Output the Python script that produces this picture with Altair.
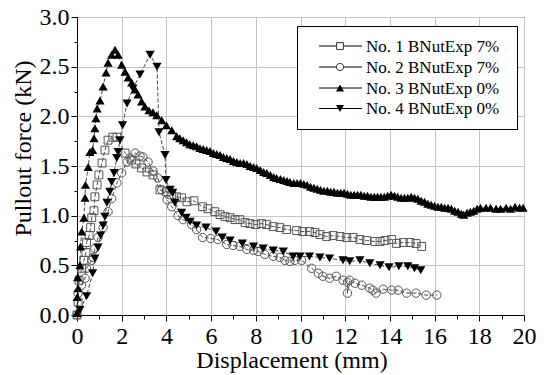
import altair as alt
import pandas as pd

# ---------------- data ----------------
x1 = [0.0, 0.05, 0.09, 0.21, 0.31, 0.40, 0.43, 0.54, 0.61, 0.66, 0.76, 0.80, 0.90, 0.98, 1.12, 1.25,
      1.39, 1.60, 1.79, 2.15, 2.45, 2.64, 2.89, 3.13, 3.40, 3.71, 4.00, 4.24, 4.46, 4.68, 4.92, 5.23,
      5.62, 5.86, 6.17, 6.40, 6.62, 6.85, 7.07, 7.29, 7.52, 7.74, 8.00, 8.26, 8.49, 8.78, 9.08, 9.38,
      9.83, 10.10, 10.40, 10.65, 10.87, 11.17, 11.46, 11.77, 12.07, 12.35, 12.66, 12.96, 13.33, 13.56,
      13.78, 14.08, 14.30, 14.60, 14.90, 15.17, 15.42]
y1 = [0.0, 0.13, 0.35, 0.47, 0.55, 0.63, 0.73, 0.80, 0.88, 0.98, 1.05, 1.19, 1.31, 1.41, 1.53, 1.66,
      1.76, 1.79, 1.79, 1.63, 1.56, 1.52, 1.48, 1.44, 1.41, 1.26, 1.24, 1.21, 1.19, 1.18, 1.14, 1.15,
      1.09, 1.07, 1.04, 1.01, 0.99, 0.98, 0.96, 0.96, 0.93, 0.92, 0.91, 0.92, 0.91, 0.89, 0.88, 0.86,
      0.85, 0.84, 0.84, 0.83, 0.81, 0.79, 0.80, 0.79, 0.78, 0.78, 0.76, 0.75, 0.74, 0.74,
      0.75, 0.76, 0.72, 0.73, 0.73, 0.72, 0.69]

x2 = [0.0, 0.05, 0.20, 0.36, 0.43, 0.66, 0.72, 0.80, 0.94, 1.17, 1.39, 1.55, 1.79, 2.00, 2.24, 2.37,
      2.60, 2.82, 2.95, 3.18, 3.40, 3.62, 3.79, 4.03, 4.24, 4.52, 4.75, 5.13, 5.35, 5.62, 5.98, 6.30,
      6.70, 6.98, 7.29, 7.60, 7.90, 8.10, 8.40, 8.78, 9.08, 9.30, 9.53, 9.75, 10.05, 10.50, 10.80,
      11.00, 11.30, 11.60, 11.90, 12.10, 12.10, 12.20, 12.44, 12.74, 13.10, 13.24, 13.38, 13.70,
      14.08, 14.37, 14.75, 15.17, 15.62, 16.10]
y2 = [0.0, 0.22, 0.30, 0.37, 0.47, 0.55, 0.58, 0.67, 0.78, 0.88, 1.04, 1.17, 1.33, 1.43, 1.54, 1.58,
      1.63, 1.60, 1.59, 1.54, 1.45, 1.38, 1.26, 1.16, 1.09, 1.00, 0.96, 0.91, 0.86, 0.78, 0.77, 0.76,
      0.71, 0.70, 0.69, 0.66, 0.65, 0.64, 0.61, 0.59, 0.58, 0.55, 0.54, 0.55, 0.55, 0.47, 0.42,
      0.39, 0.37, 0.39, 0.35, 0.33, 0.22, 0.35, 0.32, 0.30, 0.27, 0.25, 0.22, 0.26,
      0.25, 0.25, 0.22, 0.22, 0.20, 0.20]

x3 = [0.0, 0.01, 0.05, 0.03, 0.13, 0.16, 0.21, 0.31, 0.36, 0.38, 0.50, 0.58, 0.70, 0.76, 0.80, 0.85,
      0.90, 1.03, 1.17, 1.30, 1.39, 1.55, 1.70, 1.84, 2.00, 2.15, 2.29, 2.45, 2.60, 2.73, 2.89, 3.04,
      3.22, 3.40, 3.57, 3.79, 4.00, 4.24, 4.46, 4.60, 4.75, 4.90, 5.05, 5.20, 5.35, 5.50, 5.65, 5.80,
      5.95, 6.10, 6.25, 6.40, 6.55, 6.70, 6.85, 7.00, 7.15, 7.30, 7.45, 7.60, 7.75, 7.90, 8.04, 8.20,
      8.35, 8.49, 8.65, 8.80, 8.93, 9.10, 9.25, 9.40, 9.53, 9.70, 9.85, 10.00, 10.15, 10.30, 10.45,
      10.60, 10.75, 10.90, 11.05, 11.20, 11.35, 11.50, 11.65, 11.80, 11.95, 12.10, 12.25, 12.40,
      12.55, 12.70, 12.85, 13.00, 13.15, 13.30, 13.45, 13.60, 13.75, 13.90, 14.05, 14.20, 14.35,
      14.50, 14.65, 14.80, 14.95, 15.10, 15.25, 15.40, 15.55, 15.70, 15.85, 16.00, 16.15, 16.30,
      16.45, 16.60, 16.75, 16.90, 17.05, 17.20, 17.30, 17.45, 17.60, 17.75, 17.90, 18.05, 18.30,
      18.50, 18.75, 18.95, 19.20, 19.40, 19.60, 19.80, 19.96]
y3 = [0.02, 0.18, 0.27, 0.38, 0.50, 0.69, 0.84, 0.98, 1.18, 1.31, 1.49, 1.64, 1.66, 1.78, 1.88, 1.98,
      2.08, 2.16, 2.30, 2.44, 2.54, 2.62, 2.67, 2.62, 2.52, 2.45, 2.39, 2.34, 2.27, 2.22, 2.15, 2.10,
      2.06, 2.04, 2.01, 1.96, 1.91, 1.86, 1.80, 1.78, 1.76, 1.74, 1.72, 1.71, 1.70, 1.68, 1.67, 1.66,
      1.65, 1.63, 1.62, 1.61, 1.59, 1.58, 1.57, 1.55, 1.54, 1.53, 1.53, 1.52, 1.50, 1.49, 1.48, 1.46,
      1.44, 1.43, 1.41, 1.39, 1.38, 1.37, 1.36, 1.35, 1.34, 1.33, 1.33, 1.33, 1.32, 1.31, 1.29,
      1.28, 1.27, 1.26, 1.25, 1.25, 1.24, 1.24, 1.23, 1.23, 1.23, 1.22, 1.21, 1.21,
      1.21, 1.21, 1.20, 1.20, 1.19, 1.19, 1.19, 1.19, 1.19, 1.20, 1.21, 1.20, 1.19,
      1.18, 1.18, 1.18, 1.19, 1.18, 1.17, 1.15, 1.14, 1.12, 1.11, 1.10, 1.09, 1.09,
      1.08, 1.08, 1.07, 1.05, 1.04, 1.02, 1.01, 1.03, 1.04, 1.05, 1.07, 1.08, 1.08,
      1.08, 1.07, 1.07, 1.08, 1.07, 1.09, 1.08, 1.08]

x4 = [0.13, 0.43, 0.70, 0.80, 0.94, 1.06, 1.17, 1.25, 1.34, 1.47, 1.55, 1.66, 1.78, 1.84, 1.92, 2.04,
      2.24, 2.50, 2.82, 3.27, 3.58, 3.67, 3.94, 3.98, 4.16, 4.28, 4.38, 4.68, 4.88, 5.06, 5.35, 5.77,
      6.22, 6.50, 6.85, 7.40, 7.90, 8.33, 8.78, 9.23, 9.67, 9.98, 10.40, 10.87, 11.30, 11.90, 12.20,
      12.66, 13.10, 13.56, 13.96, 14.40, 14.80, 15.10, 15.38]
y4 = [0.05, 0.19, 0.42, 0.57, 0.68, 0.80, 0.90, 0.99, 1.13, 1.24, 1.34, 1.43, 1.58, 1.64, 1.76, 1.91,
      2.13, 2.28, 2.42, 2.62, 2.50, 1.84, 1.61, 1.36, 1.26, 1.23, 1.13, 1.03, 0.98, 0.94, 0.90, 0.88,
      0.84, 0.78, 0.75, 0.72, 0.69, 0.67, 0.65, 0.64, 0.59, 0.59, 0.59, 0.58, 0.57, 0.55, 0.54,
      0.55, 0.52, 0.50, 0.48, 0.49, 0.49, 0.47, 0.45]

names = ["No. 1 BNutExp 7%", "No. 2 BNutExp 7%", "No. 3 BNutExp 0%", "No. 4 BNutExp 0%"]
x_ticks = [0, 2, 4, 6, 8, 10, 12, 14, 16, 18, 20]
x_minor = [1, 3, 5, 7, 9, 11, 13, 15, 17, 19]
y_ticks = [0.0, 0.5, 1.0, 1.5, 2.0, 2.5, 3.0]
y_minor = [0.25, 0.75, 1.25, 1.75, 2.25, 2.75]

# ---------------- styling ----------------
FONT = "'Liberation Serif', 'Times New Roman', Times, 'DejaVu Serif', serif"
W, H = 447, 298
series = [
    (x1, y1, "square", False, "#555555", 62),
    (x2, y2, "circle", False, "#555555", 70),
    (x3, y3, "triangle-up", True, "black", 85),
    (x4, y4, "triangle-down", True, "black", 85),
]

xscale = alt.Scale(domain=[0, 20], nice=False, zero=False)
yscale = alt.Scale(domain=[0, 3], nice=False, zero=False)

xaxis = alt.Axis(values=x_ticks, grid=True, gridColor="#c4c4c4", gridWidth=1,
                 tickSize=6, tickColor="black", domainColor="black", labelColor="black",
                 labelFont=FONT, labelFontSize=24, labelPadding=3, labelFlush=False,
                 title="Displacement (mm)", titleFont=FONT, titleFontSize=24,
                 titleFontWeight="normal", titleColor="black", titleX=214.5, titleY=52,
                 titleBaseline="alphabetic")
yaxis = alt.Axis(values=y_ticks, format=".1f", grid=True, gridColor="#c4c4c4", gridWidth=1,
                 tickSize=6, tickColor="black", domainColor="black", labelColor="black",
                 labelFont=FONT, labelFontSize=24, labelPadding=2, labelFlush=False,
                 title="Pullout force (kN)", titleFont=FONT, titleFontSize=24,
                 titleFontWeight="normal", titleColor="black", titleX=-47, titleY=131,
                 titleBaseline="alphabetic", titleAngle=270)

layers = []
for k, (xs, ys, shape, filled, col, size) in enumerate(series):
    df = pd.DataFrame({"x": xs, "y": ys, "i": list(range(len(xs)))})
    if k == 0:
        enc_x = alt.X("x:Q", scale=xscale, axis=xaxis)
        enc_y = alt.Y("y:Q", scale=yscale, axis=yaxis)
    else:
        enc_x = alt.X("x:Q", scale=xscale, axis=None)
        enc_y = alt.Y("y:Q", scale=yscale, axis=None)
    line = alt.Chart(df).mark_line(color="#333333", strokeWidth=0.9, strokeDash=[4, 2]).encode(
        x=enc_x, y=enc_y, order="i:Q")
    pts = alt.Chart(df).mark_point(shape=shape, filled=filled, size=size,
                                   color=col, strokeWidth=1, opacity=1).encode(
        x=alt.X("x:Q", scale=xscale, axis=None), y=alt.Y("y:Q", scale=yscale, axis=None))
    layers += [line, pts]

# minor ticks (independent axes on the same scales)
dummy = pd.DataFrame({"x": [0, 20], "y": [0, 3]})
minor = alt.Chart(dummy).mark_point(opacity=0).encode(
    x=alt.X("x:Q", scale=xscale, axis=alt.Axis(values=x_minor, orient="bottom", grid=False,
                                                labels=False, title=None, domain=False,
                                                tickSize=4, tickColor="black")),
    y=alt.Y("y:Q", scale=yscale, axis=alt.Axis(values=y_minor, orient="left", grid=False,
                                                labels=False, title=None, domain=False,
                                                tickSize=3, tickColor="black")),
)

# legend box
box = alt.Chart(pd.DataFrame({"a": [0]})).mark_rect(fill="white", stroke="black", strokeWidth=1).encode(
    x=alt.value(220.5), x2=alt.value(440.5), y=alt.value(9.5), y2=alt.value(112.5))
leg = [box]
row_y = [29, 50, 71, 91.5]
for k, (xs, ys, shape, filled, col, size) in enumerate(series):
    d = pd.DataFrame({"name": [names[k]]})
    leg.append(alt.Chart(d).mark_rule(color="black", strokeWidth=1).encode(
        x=alt.value(242), x2=alt.value(285), y=alt.value(row_y[k])))
    leg.append(alt.Chart(d).mark_point(shape=shape, filled=filled, size=size * 0.75,
                                       color="black" if filled else "#333333",
                                       fill="black" if filled else "white",
                                       strokeWidth=1, opacity=1).encode(
        x=alt.value(263), y=alt.value(row_y[k])))
    leg.append(alt.Chart(d).mark_text(align="left", baseline="middle", font=FONT,
                                      fontSize=17, color="black").encode(
        x=alt.value(289), y=alt.value(row_y[k] + 0.5), text="name:N"))

chart = alt.layer(*layers, minor, *leg).resolve_axis(x="independent", y="independent").properties(
    width=W, height=H,
    autosize=alt.AutoSizeParams(type="none"),
    padding={"left": 77, "top": 17, "right": 23, "bottom": 60},
    background="white",
).configure_view(stroke="black", strokeWidth=1)

chart.save("out.html", embed_options={"renderer": "svg", "actions": False})
